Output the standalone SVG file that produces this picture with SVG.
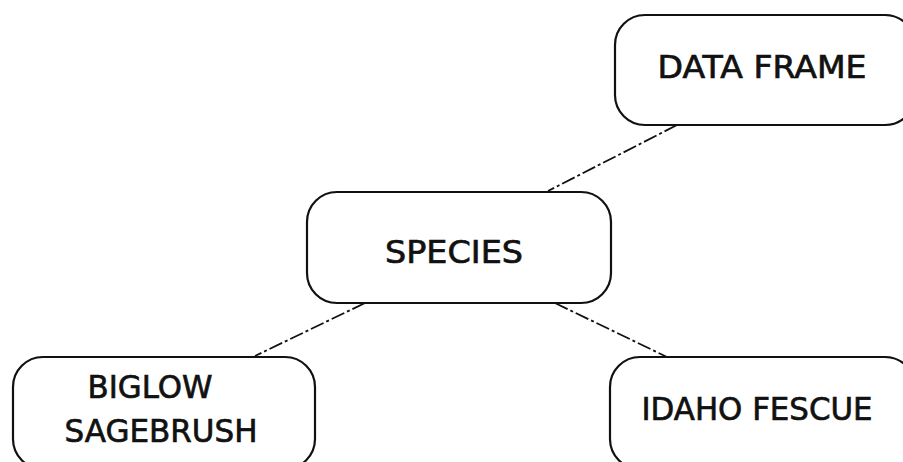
<svg xmlns="http://www.w3.org/2000/svg" width="903" height="462" viewBox="0 0 903 462">
<style>
.box{fill:none;stroke:#111;stroke-width:2.2}
.lbl{font-family:"DejaVu Sans",sans-serif;font-size:32px;fill:#111;stroke:#111;stroke-width:0.7;text-anchor:middle}
.conn{stroke:#111;stroke-width:1.8;stroke-dasharray:14 3 3 3;fill:none}
</style>
<rect width="903" height="462" fill="#fff"/>
<g id="connectors">
<line class="conn" x1="677" y1="125" x2="548" y2="191"/>
<line class="conn" x1="365" y1="303" x2="255" y2="356"/>
<line class="conn" x1="555" y1="303" x2="667" y2="357"/>
</g>
<g id="node-data-frame">
<rect class="box" x="615" y="15" width="300" height="110" rx="30"/>
<text class="lbl" x="762" y="78" textLength="209" lengthAdjust="spacingAndGlyphs">DATA FRAME</text>
</g>
<g id="node-species">
<rect class="box" x="307" y="192" width="304" height="111" rx="30"/>
<text class="lbl" x="454" y="263" font-size="33" textLength="138" lengthAdjust="spacingAndGlyphs">SPECIES</text>
</g>
<g id="node-biglow">
<rect class="box" x="13" y="357" width="302" height="112" rx="30"/>
<text class="lbl" x="150" y="398" textLength="125" lengthAdjust="spacingAndGlyphs">BIGLOW</text>
<text class="lbl" x="161" y="442" textLength="193" lengthAdjust="spacingAndGlyphs">SAGEBRUSH</text>
</g>
<g id="node-idaho">
<rect class="box" x="610" y="357" width="305" height="112" rx="30"/>
<text class="lbl" x="757" y="420" textLength="231" lengthAdjust="spacingAndGlyphs">IDAHO FESCUE</text>
</g>
</svg>
